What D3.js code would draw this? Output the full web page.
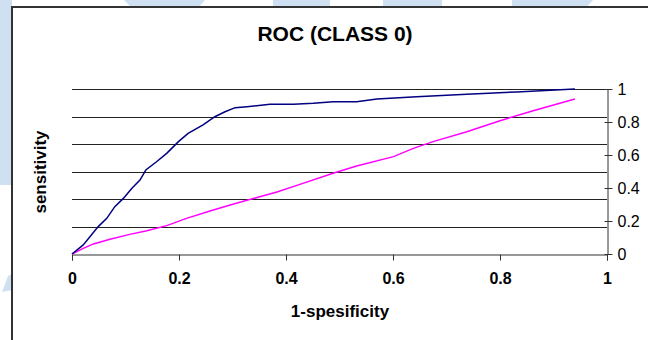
<!DOCTYPE html>
<html>
<head>
<meta charset="utf-8">
<script src="https://cdn.jsdelivr.net/npm/d3@7"></script>
<style>
  html, body { margin: 0; padding: 0; background: #fff; }
  text { font-family: "Liberation Sans", Arial, sans-serif; fill: #000; }
</style>
</head>
<body>
<div id="plot"></div>
<script>
// ROC curve for class 0 (navy) and the reference line (magenta)
var rocX = [0, 0.021, 0.049, 0.065, 0.080, 0.096, 0.112, 0.127, 0.138, 0.158, 0.177, 0.199, 0.217, 0.245, 0.267, 0.286, 0.305, 0.327, 0.345, 0.370, 0.414, 0.451, 0.488, 0.532, 0.570, 0.644, 0.738, 0.831, 0.940];
var rocY = [0, 0.055, 0.166, 0.216, 0.287, 0.337, 0.398, 0.448, 0.509, 0.559, 0.610, 0.681, 0.731, 0.782, 0.832, 0.862, 0.887, 0.893, 0.899, 0.907, 0.907, 0.913, 0.923, 0.923, 0.939, 0.953, 0.968, 0.982, 1.0];
var refX = [0, 0.021, 0.040, 0.071, 0.108, 0.140, 0.177, 0.214, 0.258, 0.302, 0.351, 0.383, 0.426, 0.488, 0.532, 0.601, 0.638, 0.675, 0.738, 0.800, 0.862, 0.940];
var refY = [0, 0.034, 0.061, 0.089, 0.119, 0.141, 0.172, 0.216, 0.261, 0.303, 0.347, 0.376, 0.422, 0.489, 0.533, 0.590, 0.640, 0.681, 0.741, 0.808, 0.868, 0.939];

var xTicks = [0, 0.2, 0.4, 0.6, 0.8, 1];
var yTicks = [0, 0.2, 0.4, 0.6, 0.8, 1];
var gridMax = 1.2;   // hidden primary axis, gridlines every 0.2

var title = "ROC (CLASS 0)";
var xTitle = "1-spesificity";
var yTitle = "sensitivity";

var W = 648, H = 340;
var plot = {left: 72, right: 607, top: 89, bottom: 254};

var svg = d3.select("#plot").append("svg")
	.attr("width", W)
	.attr("height", H);

// faint background watermark behind the chart frame
var wm = svg.append("g").attr("fill", "#cfe0f3");
wm.append("rect").attr("x", 0).attr("y", 0).attr("width", 12).attr("height", 185);
wm.append("polygon").attr("points", "124,0 205,0 198,8 132,8");
wm.append("rect").attr("x", 273).attr("y", 0).attr("width", 57).attr("height", 8);
wm.append("rect").attr("x", 383).attr("y", 0).attr("width", 59).attr("height", 8);
wm.append("polygon").attr("points", "512,0 593,0 586,8 512,8");
wm.append("polygon").attr("points", "8,276 12,274 12,290 2,292");

// chart frame
svg.append("rect")
	.attr("x", 12).attr("y", 7)
	.attr("width", W + 20).attr("height", H + 20)
	.attr("fill", "#fff")
	.attr("stroke", "#333")
	.attr("stroke-width", 2);

var x = d3.scaleLinear().domain([0, 1]).range([plot.left, plot.right]);
var y = d3.scaleLinear().domain([0, 1]).range([plot.bottom, plot.top]);
var yGrid = d3.scaleLinear().domain([0, gridMax]).range([plot.bottom, plot.top]);

// gridlines
svg.append("g")
	.selectAll("line")
	.data(yGrid.ticks(6).filter(function(d) { return d > 0; }))
	.enter().append("line")
	.attr("x1", plot.left).attr("x2", plot.right)
	.attr("y1", function(d) { return Math.round(yGrid(d)) + 0.5; })
	.attr("y2", function(d) { return Math.round(yGrid(d)) + 0.5; })
	.attr("stroke", "#222")
	.attr("stroke-width", 1);

// x axis
var xAxis = svg.append("g")
	.attr("transform", "translate(0," + (plot.bottom + 0.5) + ")")
	.call(d3.axisBottom(x).tickValues(xTicks).tickSize(6).tickFormat(d3.format("")));
xAxis.select(".domain").attr("stroke", "#333");
xAxis.selectAll(".tick line").attr("stroke", "#333");
xAxis.selectAll(".tick text")
	.attr("y", 24)
	.attr("dy", "0.35em")
	.style("font-size", "16px")
	.style("font-weight", "bold")
	.style("font-family", "'Liberation Sans', Arial, sans-serif");

// right axis
var yAxis = svg.append("g")
	.attr("transform", "translate(" + (plot.right + 0.5) + ",0)")
	.call(d3.axisRight(y).tickValues(yTicks).tickSizeInner(5).tickSizeOuter(0).tickFormat(d3.format("")));
yAxis.select(".domain").attr("stroke", "#333");
yAxis.selectAll(".tick line").attr("stroke", "#333").attr("x1", -3);
yAxis.selectAll(".tick text")
	.attr("x", 10)
	.style("font-size", "16px")
	.style("font-family", "'Liberation Sans', Arial, sans-serif");

// curves
var line = d3.line()
	.x(function(d) { return x(d[0]); })
	.y(function(d) { return y(d[1]); });

svg.append("path")
	.datum(d3.zip(refX, refY))
	.attr("d", line)
	.attr("fill", "none")
	.attr("stroke", "#ff00ff")
	.attr("stroke-width", 1.5);

svg.append("path")
	.datum(d3.zip(rocX, rocY))
	.attr("d", line)
	.attr("fill", "none")
	.attr("stroke", "#000080")
	.attr("stroke-width", 1.5);

// titles
svg.append("text")
	.attr("x", 335).attr("y", 41)
	.attr("text-anchor", "middle")
	.style("font-size", "21px")
	.style("font-weight", "bold")
	.text(title);

svg.append("text")
	.attr("x", 340).attr("y", 317)
	.attr("text-anchor", "middle")
	.style("font-size", "17px")
	.style("font-weight", "bold")
	.text(xTitle);

svg.append("text")
	.attr("transform", "translate(46,172) rotate(-90)")
	.attr("text-anchor", "middle")
	.style("font-size", "17px")
	.style("font-weight", "bold")
	.text(yTitle);
</script>
</body>
</html>
